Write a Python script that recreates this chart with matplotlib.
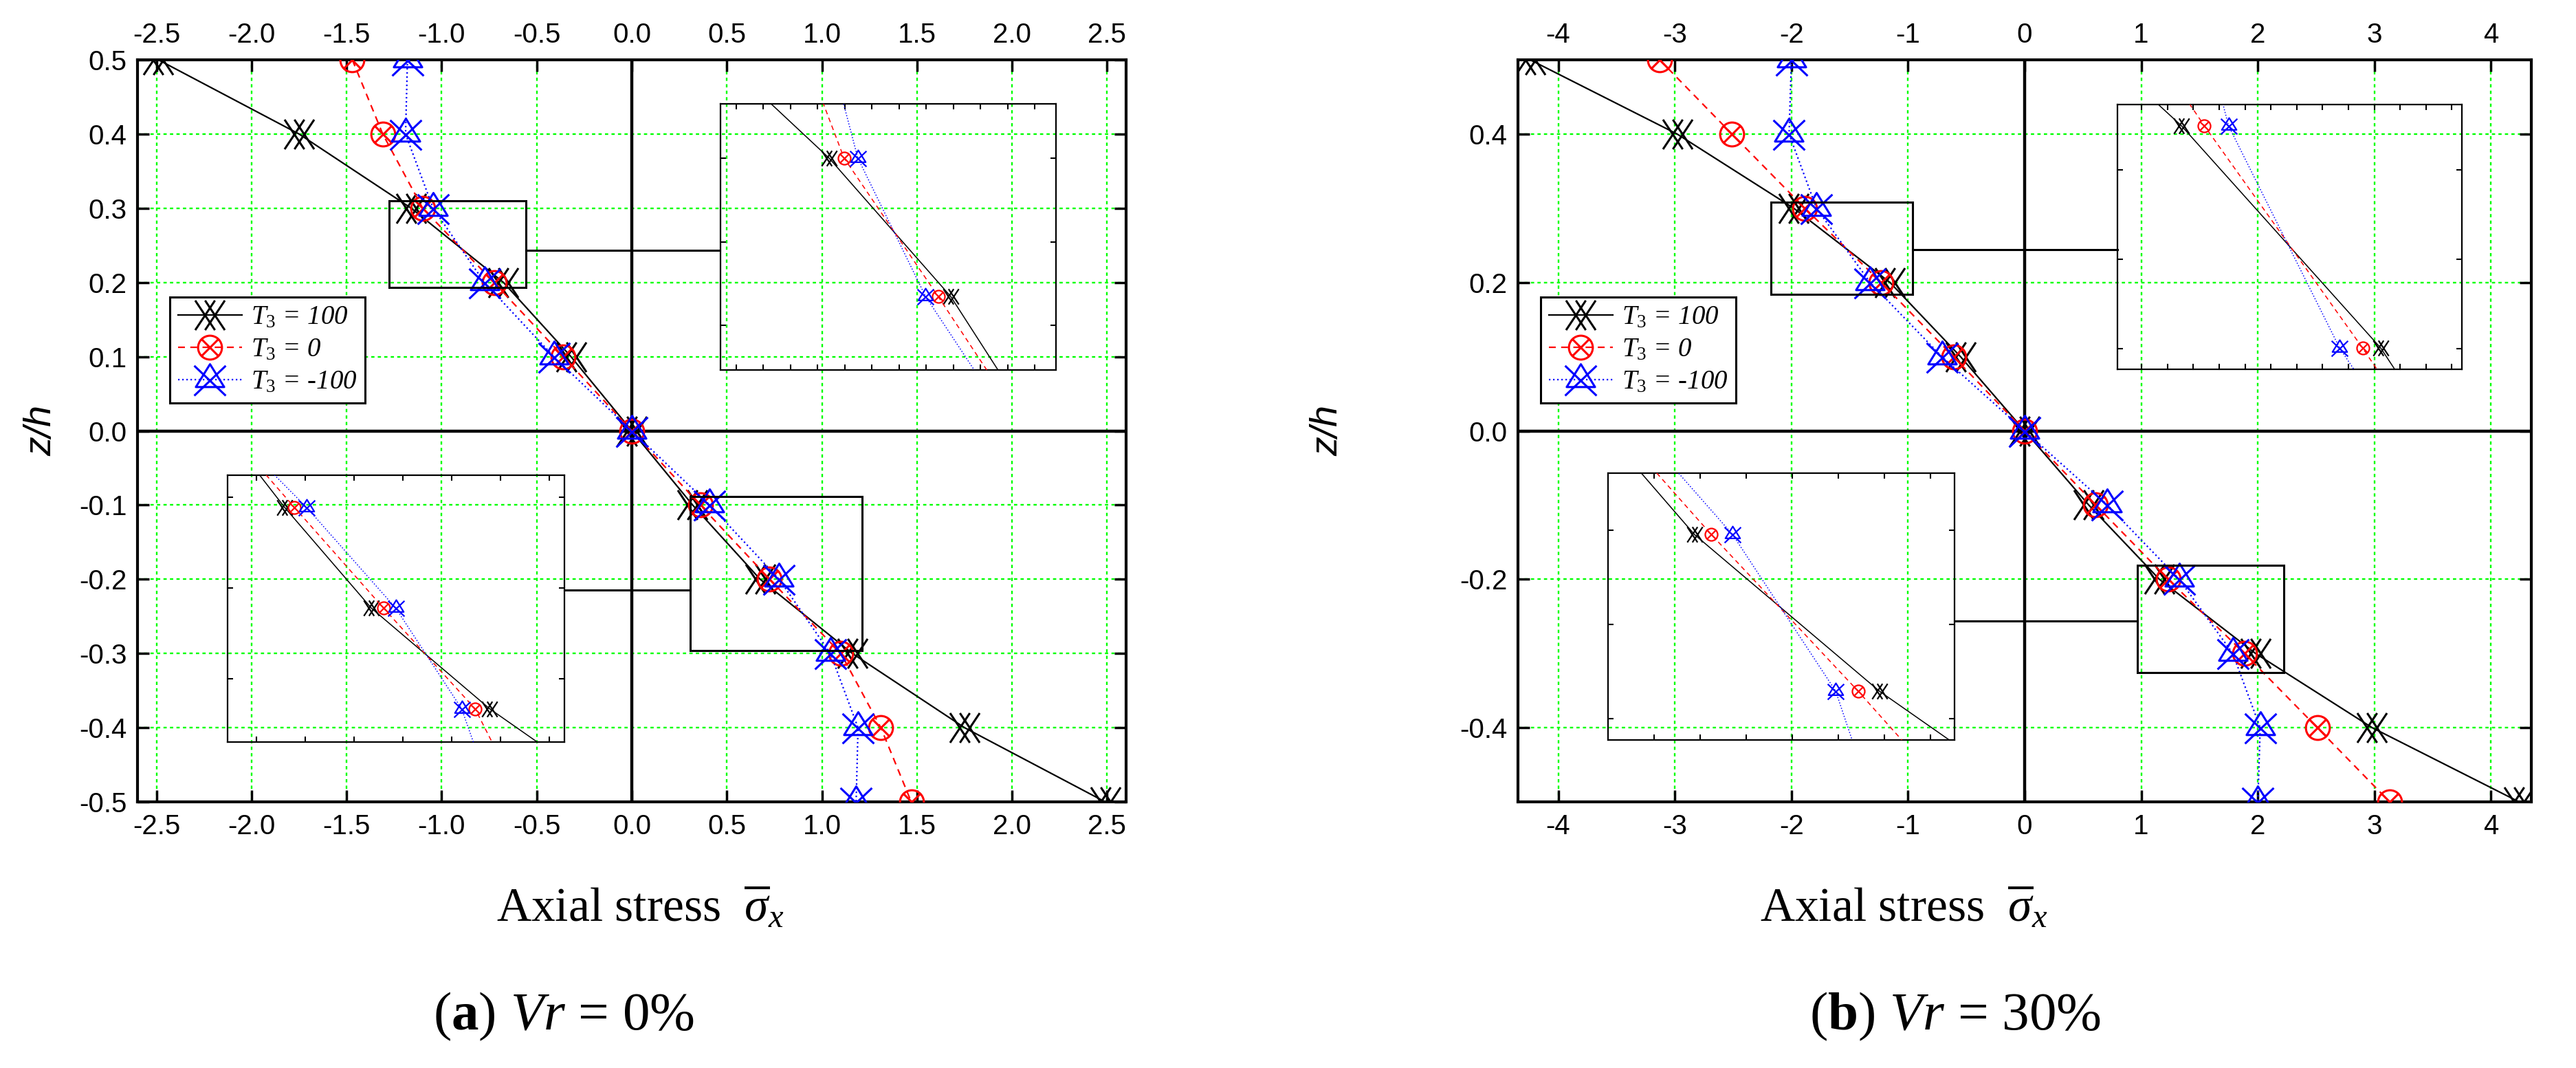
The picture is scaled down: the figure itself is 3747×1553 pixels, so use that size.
import numpy as np
import matplotlib
matplotlib.use("Agg")
import matplotlib.pyplot as plt
from matplotlib.path import Path
from matplotlib.lines import Line2D
from matplotlib.patches import Rectangle
from matplotlib.ticker import FormatStrFormatter

plt.rcParams['font.family'] = ['Liberation Sans', 'DejaVu Sans']
plt.rcParams['mathtext.fontset'] = 'custom'
plt.rcParams['mathtext.rm'] = 'Liberation Serif'
plt.rcParams['mathtext.it'] = 'Liberation Serif:italic'
plt.rcParams['mathtext.bf'] = 'Liberation Serif:bold'
plt.rcParams['axes.unicode_minus'] = False

W, H, DPI = 3747, 1553, 100

# ── data: thickness coordinate and axial stress for each T3 ──────────
z = [0.5, 0.4, 0.3, 0.2, 0.1, 0.0, -0.1, -0.2, -0.3, -0.4, -0.5]

# (a) Vr = 0%
a_t100 = [-2.49, -1.75, -1.16, -0.675, -0.32, 0.0, 0.32, 0.675, 1.16, 1.75, 2.49]
a_t0 = [-1.47, -1.31, -1.10, -0.725, -0.36, 0.0, 0.36, 0.725, 1.10, 1.31, 1.47]
a_tm100 = [-1.18, -1.19, -1.045, -0.775, -0.41, 0.0, 0.41, 0.775, 1.045, 1.19, 1.18]

# (b) Vr = 30%
b_t100 = [-4.24, -2.98, -1.98, -1.155, -0.55, 0.0, 0.55, 1.155, 1.98, 2.98, 4.24]
b_t0 = [-3.13, -2.51, -1.885, -1.23, -0.61, 0.0, 0.61, 1.23, 1.885, 2.51, 3.13]
b_tm100 = [-2.0, -2.02, -1.785, -1.325, -0.71, 0.0, 0.71, 1.325, 1.785, 2.02, 2.0]

labels = ['$T_3$ = 100', '$T_3$ = 0', '$T_3$ = -100']
ticks_a = [-2.5, -2.0, -1.5, -1.0, -0.5, 0.0, 0.5, 1.0, 1.5, 2.0, 2.5]
zticks_a = [-0.5, -0.4, -0.3, -0.2, -0.1, 0.0, 0.1, 0.2, 0.3, 0.4, 0.5]
ticks_b = [-4, -3, -2, -1, 0, 1, 2, 3, 4]
zticks_b = [-0.4, -0.2, 0.0, 0.2, 0.4]


def fx(px):
    return px / W


def fy(py):
    return 1 - py / H


def rect(x0, y0, x1, y1):
    return [x0 / W, 1 - y1 / H, (x1 - x0) / W, (y1 - y0) / H]


M, L = Path.MOVETO, Path.LINETO
c = 1 / 3
# double cross
mk_xx = Path([(-1, 1), (c, -1), (-1, -1), (c, 1),
              (-c, 1), (1, -1), (-c, -1), (1, 1)], [M, L] * 4)
# circle with cross
mk_cx = Path.make_compound_path(
    Path.unit_circle(),
    Path([(-0.72, -0.72), (0.72, 0.72), (-0.72, 0.72), (0.72, -0.72)], [M, L] * 2))
# triangle with cross
mk_tx = Path.make_compound_path(
    Path([(0, 1), (-0.9, -0.45), (0.9, -0.45), (0, 1)], [M, L, L, Path.CLOSEPOLY]),
    Path([(-1, 0.9), (1, -1), (1, 0.9), (-1, -1)], [M, L] * 2))

styles = [
    dict(color='black', linestyle='-', marker=mk_xx, ms=31),
    dict(color='red', linestyle=(0, (4.5, 3.5)), marker=mk_cx, ms=25),
    dict(color='blue', linestyle=(0, (1, 1.7)), marker=mk_tx, ms=33),
]

fig = plt.figure(figsize=(W / DPI, H / DPI), dpi=DPI)


def draw_series(ax, series, scale=1.0, lw=1.6, mew=2.2):
    for vals, st in zip(series, styles):
        ax.plot(vals, z, color=st['color'], linestyle=st['linestyle'], lw=lw,
                marker=st['marker'], ms=st['ms'] * scale, mfc='none',
                mec=st['color'], mew=mew, zorder=4)


def main_axes(r, xlim, xt, zt, xfmt, series):
    ax = fig.add_axes(r)
    ax.set_xlim(*xlim)
    ax.set_ylim(-0.5, 0.5)
    ax.set_xticks(xt)
    ax.set_yticks(zt)
    ax.xaxis.set_major_formatter(FormatStrFormatter(xfmt))
    ax.yaxis.set_major_formatter(FormatStrFormatter('%.1f'))
    ax.tick_params(direction='in', top=True, right=True, labeltop=True,
                   labelbottom=True, length=12, width=2.5, labelsize=29)
    ax.tick_params(axis='x', pad=12)
    ax.tick_params(axis='y', pad=11)
    for sp in ax.spines.values():
        sp.set_linewidth(3)
    ax.grid(True, color='#00ff00', linestyle=(0, (2, 2)), linewidth=1.7)
    ax.set_axisbelow(True)
    ax.axvline(0, color='black', lw=3.2, zorder=2)
    ax.axhline(0, color='black', lw=3.2, zorder=2)
    draw_series(ax, series)
    return ax


def inset(parent, r, xlim, ylim, series, xt0, xdt, yt0, ydt, box, zc):
    x0p, y0p, x1p, y1p = r
    ins = fig.add_axes(rect(*r))
    ins.set_facecolor('none')
    draw_series(ins, series, scale=0.52, lw=1.1, mew=1.6)
    ins.set_xlim(*xlim)
    ins.set_ylim(*ylim)
    wpx, hpx = x1p - x0p, y1p - y0p
    xt = [xlim[0] + (xt0 + k * xdt) / wpx * (xlim[1] - xlim[0])
          for k in range(int((wpx - xt0) / xdt) + 1)]
    yt = [ylim[1] - (yt0 + k * ydt) / hpx * (ylim[1] - ylim[0])
          for k in range(int((hpx - yt0) / ydt) + 1)]
    ins.set_xticks(xt)
    ins.set_yticks(yt)
    ins.tick_params(direction='in', top=True, right=True, labelbottom=False,
                    labelleft=False, length=6, width=1.5)
    for sp in ins.spines.values():
        sp.set_linewidth(1.6)
    # source box and connector in parent data coords
    bx0, bx1, bz0, bz1 = box
    parent.add_patch(Rectangle((bx0, bz0), bx1 - bx0, bz1 - bz0, fill=False,
                               lw=2.2, ec='black', zorder=5))
    inv = parent.transData.inverted()
    edge_x = x0p if x0p > parent.transData.transform((bx1, 0))[0] else x1p
    ex = inv.transform((edge_x, 0))[0]
    near = bx1 if ex > bx1 else bx0
    parent.plot([near, ex], [zc, zc], color='black', lw=2.2, zorder=5)
    return ins


# ── (a) Vr = 0% ──────────────────────────────────────────────
series_a = [a_t100, a_t0, a_tm100]
axA = main_axes(rect(200, 87, 1638, 1166), (-2.6, 2.6), ticks_a, zticks_a,
                '%.1f', series_a)
fig.canvas.draw()
inset(axA, (1047.5, 151, 1536, 538), (-1.593, -0.256), (0.147, 0.339),
      series_a, 23, 39.5, 79, 121.5, (-1.275, -0.556, 0.193, 0.31), 0.243)
inset(axA, (331, 691, 821, 1079), (0.086, 1.466), (-0.333, -0.068),
      series_a, 42, 71, 32, 132, (0.306, 1.213, -0.296, -0.0885), -0.2146)

# ── (b) Vr = 30% ─────────────────────────────────────────────
series_b = [b_t100, b_t0, b_tm100]
axB = main_axes(rect(2208, 87, 3682, 1166), (-4.345, 4.345), ticks_b, zticks_b,
                '%d', series_b)
fig.canvas.draw()
inset(axB, (3079.7, 152, 3580.6, 537), (-2.245, -0.821), (0.1905, 0.3095),
      series_b, 35.5, 37.6, 94.7, 130, (-2.175, -0.96, 0.184, 0.308), 0.244)
inset(axB, (2339.4, 688.3, 2843.4, 1075.7), (0.771, 2.316), (-0.331, -0.161),
      series_b, 67, 67, 82.4, 137, (0.964, 2.22, -0.326, -0.181), -0.256)

# ── legends ──────────────────────────────────────────────────
handles = [Line2D([], [], color=st['color'], linestyle=st['linestyle'], lw=1.6,
                  marker=st['marker'], ms=st['ms'], mfc='none', mec=st['color'],
                  mew=2.2) for st in styles]
for ax, lx in [(axA, 247), (axB, 2241)]:
    leg = ax.legend(handles, labels, loc='upper left',
                    bbox_to_anchor=(fx(lx), fy(432)), bbox_transform=fig.transFigure,
                    borderaxespad=0, prop=dict(family='Liberation Serif',
                                               style='italic', size=28),
                    labelspacing=0.25, borderpad=0.3, handlelength=2.4,
                    handletextpad=0.33, fancybox=False, framealpha=1,
                    edgecolor='black', numpoints=1)
    leg.get_frame().set_linewidth(2.2)
    leg.set_zorder(10)

# ── axis labels and captions ─────────────────────────────────
for xp in [60, 1931]:
    fig.text(fx(xp), fy(626), 'z/h', rotation=90, style='italic', size=40,
             ha='center', va='center')
for xp in [932, 2770]:
    fig.text(fx(xp), fy(1339), r'Axial stress  $\overline{\sigma}_{x}$',
             family='Liberation Serif', size=50, ha='center', va='baseline')
fig.text(fx(820), fy(1497), r'($\mathbf{a}$) $Vr$ = 0%', family='Liberation Serif',
         size=57, ha='center', va='baseline')
fig.text(fx(2844), fy(1497), r'($\mathbf{b}$) $Vr$ = 30%', family='Liberation Serif',
         size=57, ha='center', va='baseline')

fig.savefig('out.png', dpi=DPI)
